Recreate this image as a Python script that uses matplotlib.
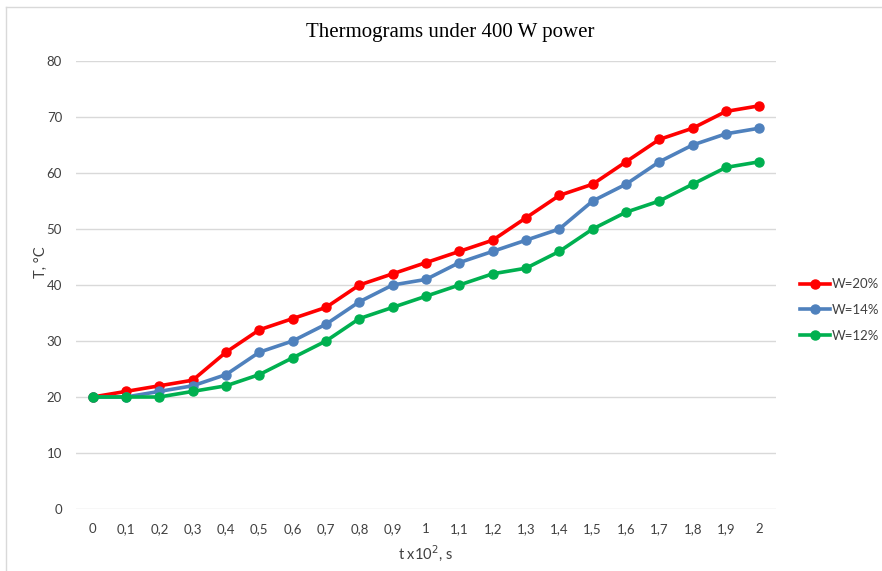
import matplotlib
matplotlib.use("Agg")
import matplotlib.pyplot as plt
from matplotlib.lines import Line2D

categories = ["0", "0,1", "0,2", "0,3", "0,4", "0,5", "0,6", "0,7", "0,8", "0,9", "1",
              "1,1", "1,2", "1,3", "1,4", "1,5", "1,6", "1,7", "1,8", "1,9", "2"]
w20 = [20, 21, 22, 23, 28, 32, 34, 36, 40, 42, 44, 46, 48, 52, 56, 58, 62, 66, 68, 71, 72]
w14 = [20, 20, 21, 22, 24, 28, 30, 33, 37, 40, 41, 44, 46, 48, 50, 55, 58, 62, 65, 67, 68]
w12 = [20, 20, 20, 21, 22, 24, 27, 30, 34, 36, 38, 40, 42, 43, 46, 50, 53, 55, 58, 61, 62]
series_names = ["W=20%", "W=14%", "W=12%"]
y_ticks = [0, 10, 20, 30, 40, 50, 60, 70, 80]

colors = ["#FF0000", "#4F81BD", "#00B050"]

plt.rcParams['font.family'] = ['Lato', 'DejaVu Sans']

fig = plt.figure(figsize=(8.82, 5.71), dpi=100)
W, H = 882, 571
ax = fig.add_axes([76 / W, 1 - 509 / H, 700 / W, 448 / H])

x = list(range(len(categories)))
for vals, c, name in zip([w20, w14, w12], colors, series_names):
    ax.plot(x, vals, color=c, lw=2.6, marker='o', ms=6.5, label=name, zorder=3)

ax.set_xlim(-0.5, len(categories) - 0.5)
ax.set_ylim(0, 80)
ax.set_yticks(y_ticks)
ax.set_xticks(x)
ax.set_xticklabels(categories)
ax.grid(axis='y', color='#D9D9D9', lw=1.0)
ax.set_axisbelow(True)
for s in ax.spines.values():
    s.set_visible(False)
ax.tick_params(axis='both', length=0, labelsize=9.5, colors='#404040')
ax.tick_params(axis='y', pad=10)
ax.tick_params(axis='x', pad=10)

ax.set_xlabel("t x10$^2$, s", fontsize=10.5, color='#404040', labelpad=6)
ax.set_ylabel("T, °C", fontsize=10.5, color='#404040', va='center')
ax.yaxis.set_label_coords(-0.05, 0.55)

fig.text(450 / W, 1 - 33 / H, "Thermograms under 400 W power", ha='center', va='center',
         fontsize=15, family='Liberation Serif', color='black')

leg = ax.legend(loc='center left', bbox_to_anchor=(800 / W, 1 - 310 / H),
                bbox_transform=fig.transFigure, frameon=False, fontsize=9.5,
                handlelength=2.3, handletextpad=0.1, labelspacing=1.05,
                borderpad=0, borderaxespad=0)
for t in leg.get_texts():
    t.set_color('#404040')

# chart frame (top and left edges visible)
fig.add_artist(Line2D([6 / W, 6 / W], [0, 1 - 7 / H], transform=fig.transFigure, color='#D9D9D9', lw=1))
fig.add_artist(Line2D([6 / W, 1], [1 - 7 / H, 1 - 7 / H], transform=fig.transFigure, color='#D9D9D9', lw=1))

fig.savefig("out.png", dpi=100)
